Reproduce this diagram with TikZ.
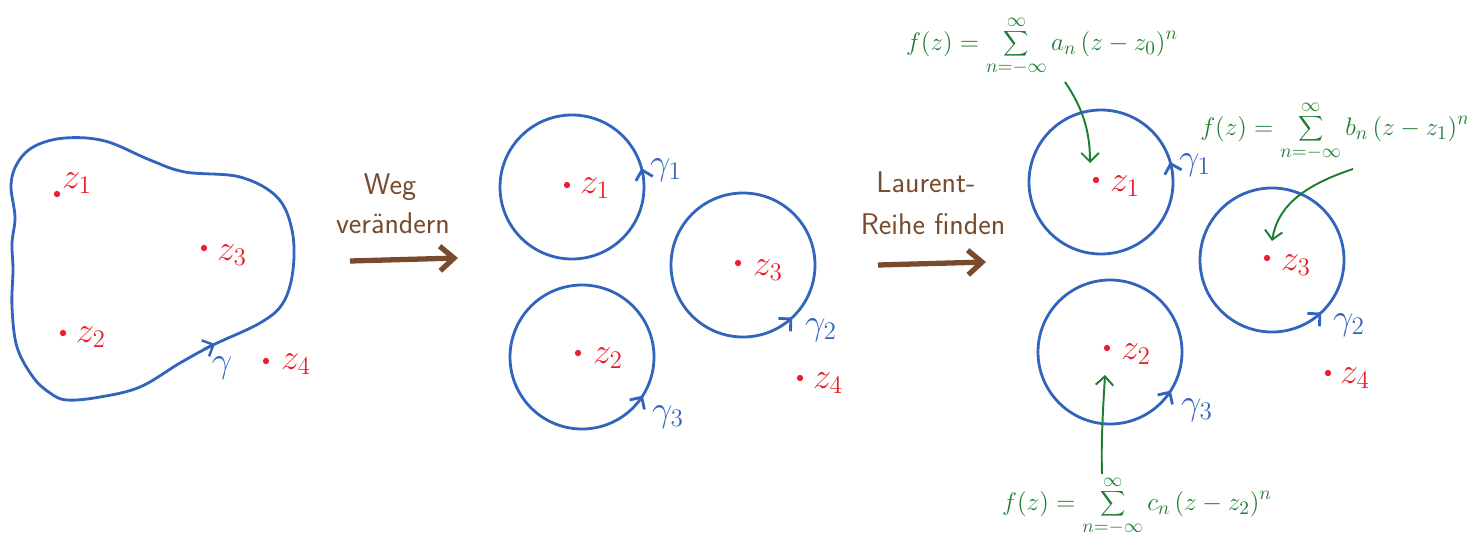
\documentclass[tikz,border=0pt]{standalone}
\usetikzlibrary{arrows.meta,decorations.markings}
\definecolor{zred}{RGB}{232,30,40}
\definecolor{cblue}{RGB}{50,100,190}
\definecolor{fgreen}{RGB}{30,125,50}
\definecolor{abrown}{RGB}{120,75,45}
\begin{document}
\begin{tikzpicture}[x=0.02cm,y=-0.02cm,
  pt/.style={circle,fill=zred,inner sep=0pt,minimum size=3.6pt},
  zlab/.style={text=zred,font=\fontsize{22}{26}\selectfont,inner sep=0pt},
  glab/.style={text=cblue,font=\fontsize{22}{26}\selectfont,inner sep=0pt},
  curve/.style={draw=cblue,line width=1.6pt},
  tipat/.style={postaction={decorate},decoration={markings,mark=at position #1 with {\arrowreversed{Straight Barb[length=5pt,width=10pt]}}}},
  bigarrow/.style={draw=abrown,line width=3pt,-{Straight Barb[length=8pt,width=14pt]}},
  btext/.style={text=abrown,font=\sffamily\fontsize{17}{20}\selectfont,inner sep=0pt},
  formula/.style={text=fgreen,font=\fontsize{15}{18}\selectfont,inner sep=0pt},
  garrow/.style={draw=fgreen,line width=1.1pt,-{Straight Barb[length=5pt,width=10pt]}}
]
\useasboundingbox (0,0) rectangle (1467,541);

% ---------- left group ----------
\draw[curve] plot[smooth cycle,tension=0.6] coordinates {
  (11,185) (15,217) (12,243) (13,270) (12,307) (17,347) (33,377) (50,393)
  (67,400) (100,397) (140,387) (180,363) (213,345) (260,323) (283,303)
  (293,270) (292,230) (277,197) (240,177) (185,172) (150,160) (105,141)
  (65,138) (35,146) (18,162)};
\coordinate (tA) at (204,349);
\coordinate (tB) at (215,344);
\draw[draw=cblue,line width=1.4pt,-{Straight Barb[length=5pt,width=10pt]}] (tA) -- (tB);
\node[glab] (gL) at (222,368) {$\gamma$};

\node[pt] (a1) at (57,194) {};
\node[zlab] (la1) at (77,183) {$z_1$};
\node[pt] (a3) at (204,248) {};
\node[zlab] (la3) at (232,255) {$z_3$};
\node[pt] (a2) at (63,333) {};
\node[zlab] (la2) at (91,337) {$z_2$};
\node[pt] (a4) at (266,361) {};
\node[zlab] (la4) at (296,364) {$z_4$};

% ---------- first arrow ----------
\node[btext] (w1) at (390,187) {Weg};
\node[btext] (w2) at (393,223) {ver\"andern};
\coordinate (A1s) at (350,261);
\coordinate (A1e) at (458,258);
\draw[bigarrow] (A1s) -- (A1e);

% ---------- middle group ----------
\coordinate (mc1) at (572,187);
\coordinate (mc2) at (582,357);
\coordinate (mc3) at (743,265);
\draw[curve,tipat=0.958] (mc1) circle (72);
\draw[curve,tipat=0.09] (mc2) circle (72);
\draw[curve,tipat=0.13] (mc3) circle (72);

\node[pt] (m1) at (567,185) {};
\node[zlab] (lm1) at (595,188) {$z_1$};
\node[pt] (m3) at (738,263) {};
\node[zlab] (lm3) at (768,270) {$z_3$};
\node[pt] (m2) at (578,353) {};
\node[zlab] (lm2) at (608,358) {$z_2$};
\node[pt] (m4) at (800,378) {};
\node[zlab] (lm4) at (828,383) {$z_4$};
\node[glab] (gm1) at (666,170) {$\gamma_1$};
\node[glab] (gm2) at (821,330) {$\gamma_2$};
\node[glab] (gm3) at (668,417) {$\gamma_3$};

% ---------- second arrow ----------
\node[btext] (w3) at (926,182) {Laurent-};
\node[btext] (w4) at (933,224) {Reihe finden};
\coordinate (A2s) at (878,265);
\coordinate (A2e) at (986,262);
\draw[bigarrow] (A2s) -- (A2e);

% ---------- right group ----------
\coordinate (rc1) at (1101,182);
\coordinate (rc2) at (1110,352);
\coordinate (rc3) at (1272,260);
\draw[curve,tipat=0.955] (rc1) circle (72);
\draw[curve,tipat=0.09] (rc2) circle (72);
\draw[curve,tipat=0.13] (rc3) circle (72);

\node[pt] (r1) at (1096,180) {};
\node[zlab] (lr1) at (1125,186) {$z_1$};
\node[pt] (r3) at (1267,258) {};
\node[zlab] (lr3) at (1296,265) {$z_3$};
\node[pt] (r2) at (1107,348) {};
\node[zlab] (lr2) at (1136,354) {$z_2$};
\node[pt] (r4) at (1328,373) {};
\node[zlab] (lr4) at (1355,378) {$z_4$};
\node[glab] (gr1) at (1195,165) {$\gamma_1$};
\node[glab] (gr2) at (1349,325) {$\gamma_2$};
\node[glab] (gr3) at (1197,410) {$\gamma_3$};

% ---------- formulas ----------
\node[formula] (f1) at (1042,46) {$f(z)=\displaystyle\sum_{n=-\infty}^{\infty} a_n\,(z-z_0)^n$};
\node[formula] (f2) at (1335,131) {$f(z)=\displaystyle\sum_{n=-\infty}^{\infty} b_n\,(z-z_1)^n$};
\node[formula] (f3) at (1137,506) {$f(z)=\displaystyle\sum_{n=-\infty}^{\infty} c_n\,(z-z_2)^n$};

\coordinate (g1s) at (1065,82);
\coordinate (g1e) at (1090,163);
\draw[garrow] (g1s) .. controls (1082,107) and (1090,130) .. (g1e);
\coordinate (g2s) at (1353,169);
\coordinate (g2e) at (1272,241);
\draw[garrow] (g2s) .. controls (1305,185) and (1278,205) .. (g2e);
\coordinate (g3s) at (1102,474);
\coordinate (g3e) at (1105,375);
\draw[garrow] (g3s) .. controls (1101,440) and (1103,410) .. (g3e);
\end{tikzpicture}
\end{document}
